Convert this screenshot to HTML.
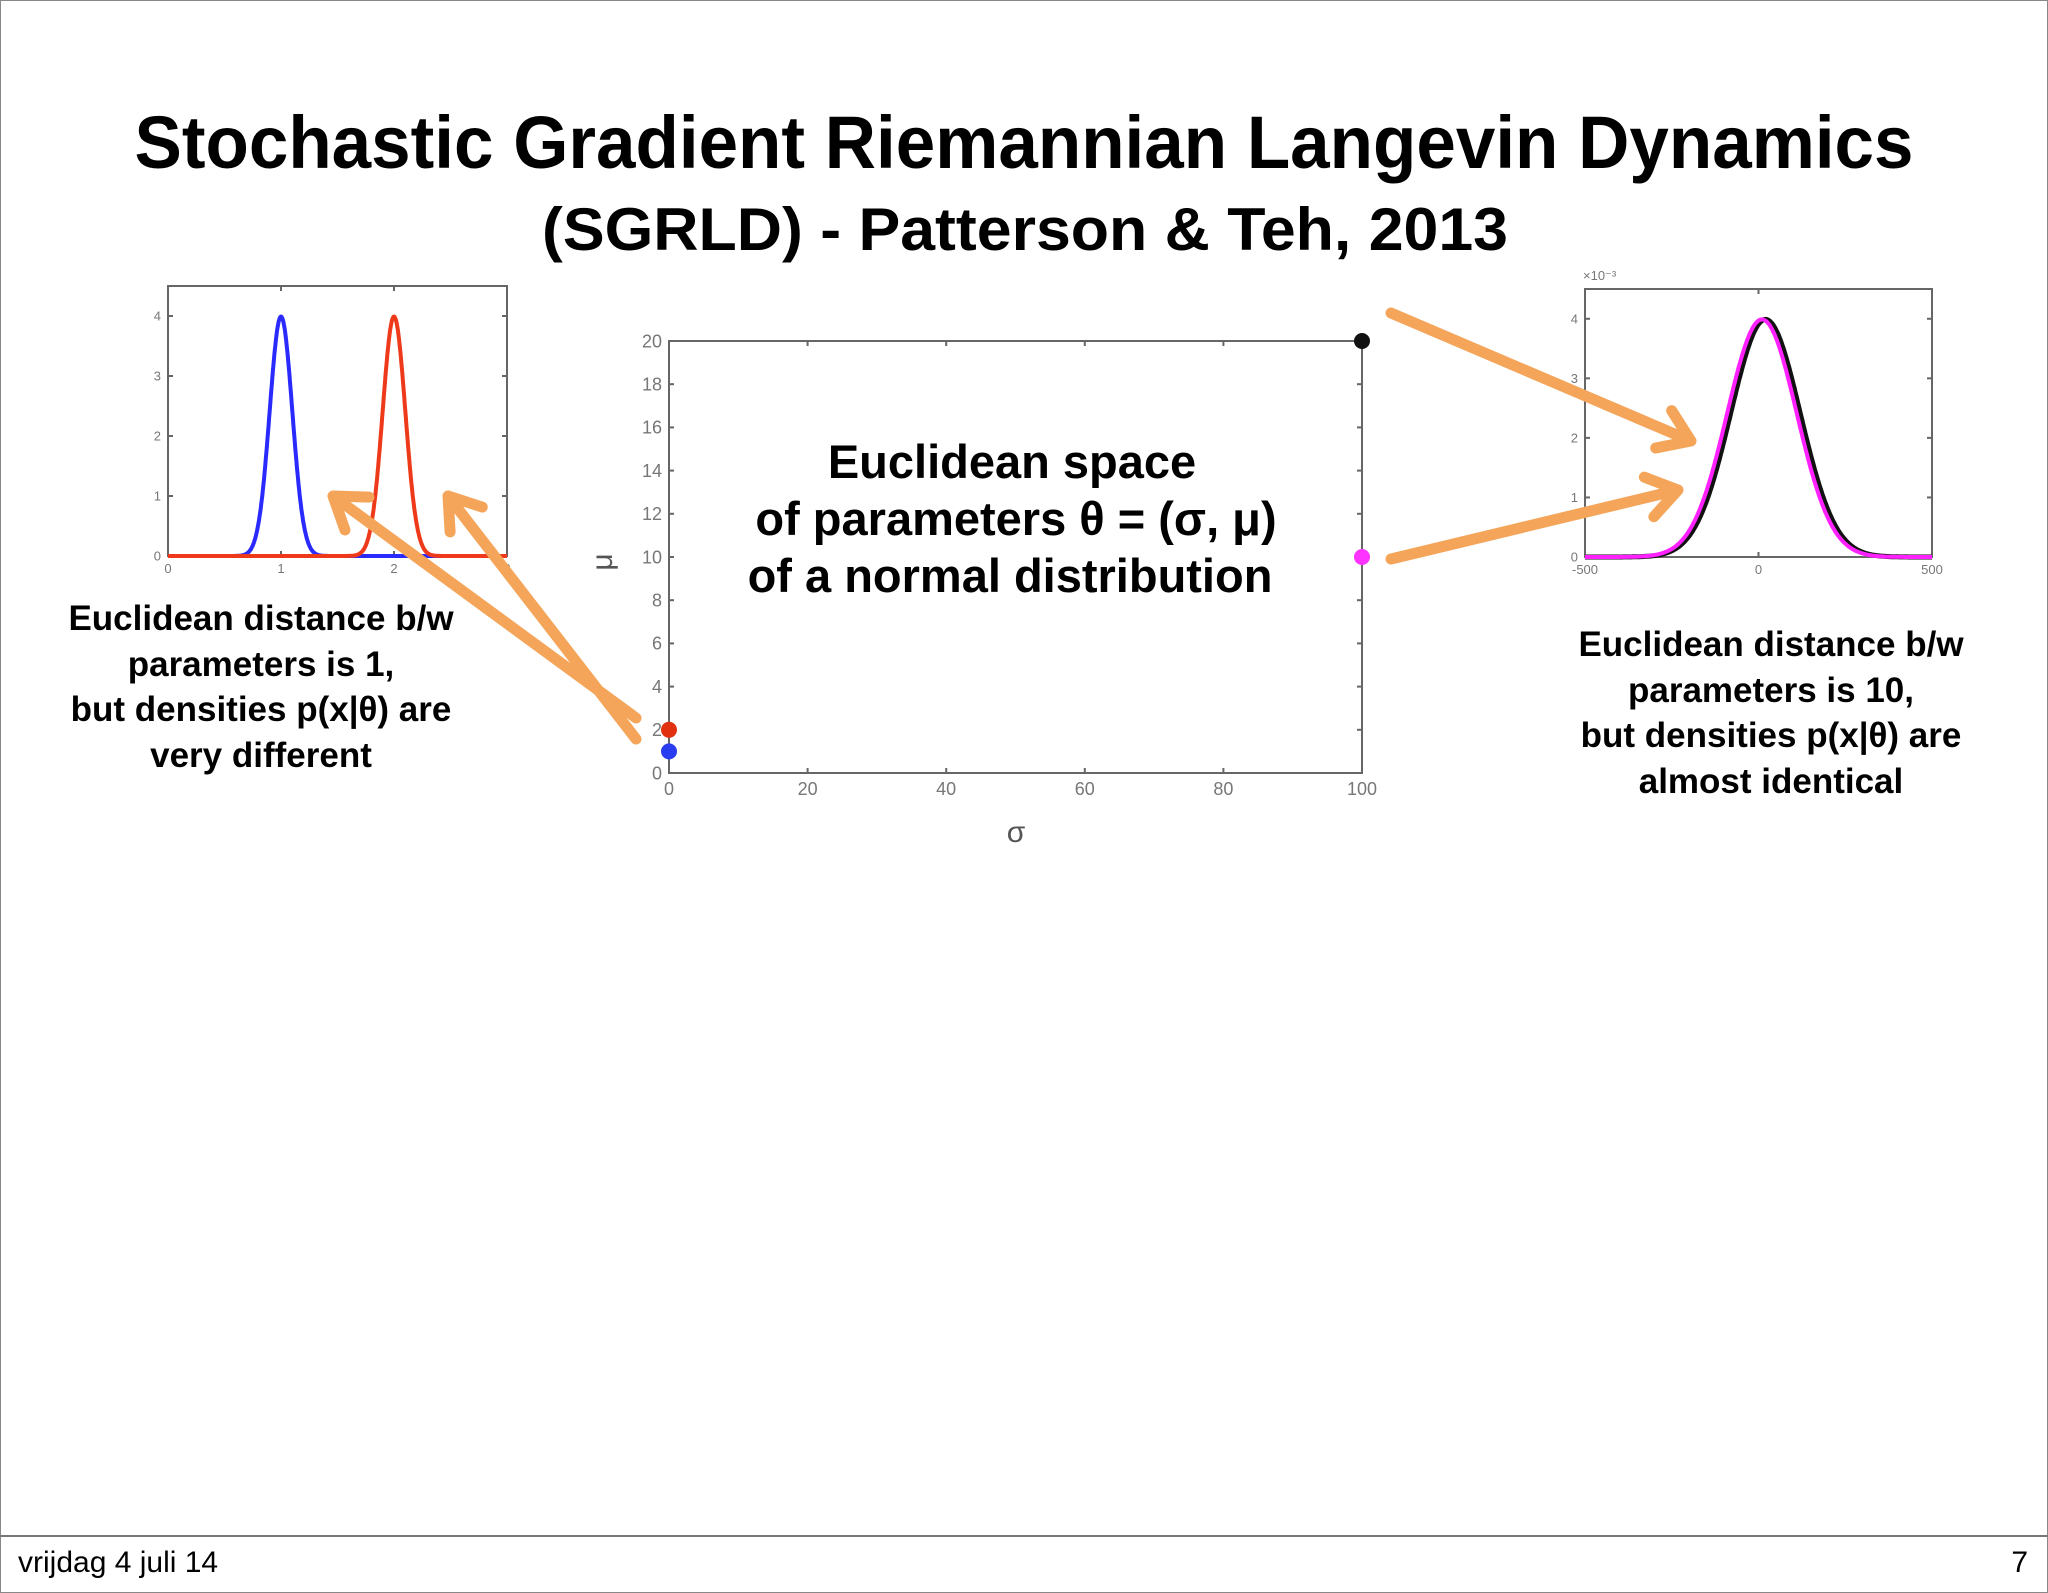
<!DOCTYPE html>
<html><head><meta charset="utf-8"><style>
html,body{margin:0;padding:0;background:#fff}
svg{display:block}
text{font-family:"Liberation Sans",sans-serif}
</style></head><body>
<svg id="s" width="2048" height="1593" viewBox="0 0 2048 1593">
<rect x="0.5" y="0.5" width="2047" height="1592" fill="#fff" stroke="#888"/>
<text x="1024" y="168" font-size="74" font-weight="bold" text-anchor="middle" textLength="1779" lengthAdjust="spacingAndGlyphs">Stochastic Gradient Riemannian Langevin Dynamics</text>
<text x="1025" y="250" font-size="60" font-weight="bold" text-anchor="middle" textLength="966" lengthAdjust="spacingAndGlyphs">(SGRLD) - Patterson &amp; Teh, 2013</text>
<g id="left"></g>
<g id="mid"></g>
<g id="right"></g>
<g font-size="47" font-weight="bold" text-anchor="middle">
<text x="1012" y="478">Euclidean space</text>
<text x="1016" y="535">of parameters θ = (σ, μ)</text>
<text x="1010" y="592">of a normal distribution</text>
</g>
<g font-size="35" font-weight="bold" text-anchor="middle">
<text x="261" y="630">Euclidean distance b/w</text>
<text x="261" y="676">parameters is 1,</text>
<text x="261" y="721">but densities p(x|θ) are</text>
<text x="261" y="767">very different</text>
</g>
<g font-size="35" font-weight="bold" text-anchor="middle">
<text x="1771" y="656">Euclidean distance b/w</text>
<text x="1771" y="702">parameters is 10,</text>
<text x="1771" y="747">but densities p(x|θ) are</text>
<text x="1771" y="793">almost identical</text>
</g>
<g id="arrows"></g>
<line x1="0" y1="1536" x2="2048" y2="1536" stroke="#777" stroke-width="2"/>
<text x="18" y="1572" font-size="30">vrijdag 4 juli 14</text>
<text x="2028" y="1572" font-size="30" text-anchor="end">7</text>
</svg>
<script>
// Left plot data
const leftMeans = [1, 2];
const leftSigmas = [0.1, 0.1];
const leftColors = ['#2a2aff', '#ee3a1a'];
const leftXTicks = [0, 1, 2, 3];
const leftYTicks = [0, 1, 2, 3, 4];
// Middle plot data
const sigmaVals = [0, 0, 100, 100];
const muVals = [1, 2, 20, 10];
const pointColors = ['#2a3cf0', '#e03010', '#111', '#ff33ff'];
const midXTicks = [0, 20, 40, 60, 80, 100];
const midYTicks = [0, 2, 4, 6, 8, 10, 12, 14, 16, 18, 20];
// Right plot data
const rightMeans = [20, 10];
const rightSigmas = [100, 100];
const rightColors = ['#111', '#ff22ff'];
const rightXTicks = [-500, 0, 500];
const rightYTicks = [0, 1, 2, 3, 4];

const NS = 'http://www.w3.org/2000/svg';
function mk(tag, attrs, parent) {
  const e = document.createElementNS(NS, tag);
  for (const k in attrs) e.setAttribute(k, attrs[k]);
  parent.appendChild(e);
  return e;
}
function axes(g, L, R, T, B, xs, ys, xt, yt, fs) {
  const fr = mk('rect', {x: L, y: T, width: R - L, height: B - T, fill: 'none', stroke: '#666', 'stroke-width': 2}, g);
  
  
  xt.forEach(v => {
    const x = xs(v);
    mk('line', {x1: x, y1: B, x2: x, y2: B - 5, stroke: '#666', 'stroke-width': 2}, g);
    mk('line', {x1: x, y1: T, x2: x, y2: T + 5, stroke: '#666', 'stroke-width': 2}, g);
    const t = mk('text', {x: x, y: B + fs + 4, 'font-size': fs, fill: '#777', 'text-anchor': 'middle'}, g);
    t.textContent = v;
    
    
  });
  yt.forEach(v => {
    const y = ys(v);
    mk('line', {x1: L, y1: y, x2: L + 5, y2: y, stroke: '#666', 'stroke-width': 2}, g);
    mk('line', {x1: R, y1: y, x2: R - 5, y2: y, stroke: '#666', 'stroke-width': 2}, g);
    const t = mk('text', {x: L - 7, y: y + fs * 0.35, 'font-size': fs, fill: '#777', 'text-anchor': 'end'}, g);
    t.textContent = v;
    
    
  });
}
function gauss(x, m, s) { return Math.exp(-0.5 * ((x - m) / s) ** 2) / (s * Math.sqrt(2 * Math.PI)); }

// Left
(function () {
  const g = document.getElementById('left');
  const L = 168, R = 507, T = 286, B = 556;
  const xs = v => L + (v - 0) / 3 * (R - L);
  const ys = v => B - v / 4.5 * (B - T);
  axes(g, L, R, T, B, xs, ys, leftXTicks, leftYTicks, 13);
  leftMeans.forEach((m, i) => {
    let d = '';
    for (let k = 0; k <= 600; k++) {
      const x = k / 600 * 3;
      d += (k ? 'L' : 'M') + xs(x).toFixed(1) + ',' + ys(gauss(x, m, leftSigmas[i])).toFixed(1);
    }
    const p = mk('path', {d: d, fill: 'none', stroke: leftColors[i], 'stroke-width': 4}, g);
    
    
  });
})();

// Middle
(function () {
  const g = document.getElementById('mid');
  const L = 669, R = 1362, T = 341, B = 773;
  const xs = v => L + v / 100 * (R - L);
  const ys = v => B - v / 20 * (B - T);
  axes(g, L, R, T, B, xs, ys, midXTicks, midYTicks, 18);
  const xl = mk('text', {x: 1016, y: 842, 'font-size': 30, fill: '#555', 'text-anchor': 'middle', 'font-family': 'Liberation Serif, serif'}, g);
  xl.textContent = 'σ';
  
  
  const yl = mk('text', {x: 0, y: 0, 'font-size': 30, fill: '#555', 'text-anchor': 'middle', transform: 'translate(612,562) rotate(-90)', 'font-family': 'Liberation Serif, serif'}, g);
  yl.textContent = 'μ';
  
  
  sigmaVals.forEach((s, i) => {
    const c = mk('circle', {cx: xs(s), cy: ys(muVals[i]), r: 8, fill: pointColors[i]}, g);
    
    
  });
})();

// Right
(function () {
  const g = document.getElementById('right');
  const L = 1585, R = 1932, T = 289, B = 557;
  const xs = v => L + (v + 500) / 1000 * (R - L);
  const ys = v => B - v / 4.5 * (B - T);
  axes(g, L, R, T, B, xs, ys, rightXTicks, rightYTicks, 13);
  const ex = mk('text', {x: 1583, y: 280, 'font-size': 13, fill: '#777'}, g);
  ex.textContent = '×10⁻³';
  
  
  rightMeans.forEach((m, i) => {
    let d = '';
    for (let k = 0; k <= 400; k++) {
      const x = -500 + k / 400 * 1000;
      d += (k ? 'L' : 'M') + xs(x).toFixed(1) + ',' + ys(gauss(x, m, rightSigmas[i]) * 1000).toFixed(1);
    }
    const p = mk('path', {d: d, fill: 'none', stroke: rightColors[i], 'stroke-width': i ? 4 : 5}, g);
    
    
  });
})();

// Arrows
(function () {
  const g = document.getElementById('arrows');
  const arrowList = [[636, 718, 333, 496], [636, 739, 448, 496], [1391, 313, 1691, 441], [1391, 559, 1678, 490]];
  arrowList.forEach((a, i) => {
    const [x1, y1, x2, y2] = a;
    const ang = Math.atan2(y2 - y1, x2 - x1), h = 36;
    const p1 = [x2 - h * Math.cos(ang - 0.6), y2 - h * Math.sin(ang - 0.6)];
    const p2 = [x2 - h * Math.cos(ang + 0.6), y2 - h * Math.sin(ang + 0.6)];
    const p = mk('path', {d: `M${x1},${y1}L${x2},${y2}M${p1[0]},${p1[1]}L${x2},${y2}L${p2[0]},${p2[1]}`, fill: 'none', stroke: '#f4a55a', 'stroke-width': 11, 'stroke-linecap': 'round', 'stroke-linejoin': 'round'}, g);
    
    
  });
})();
</script>
</body></html>
